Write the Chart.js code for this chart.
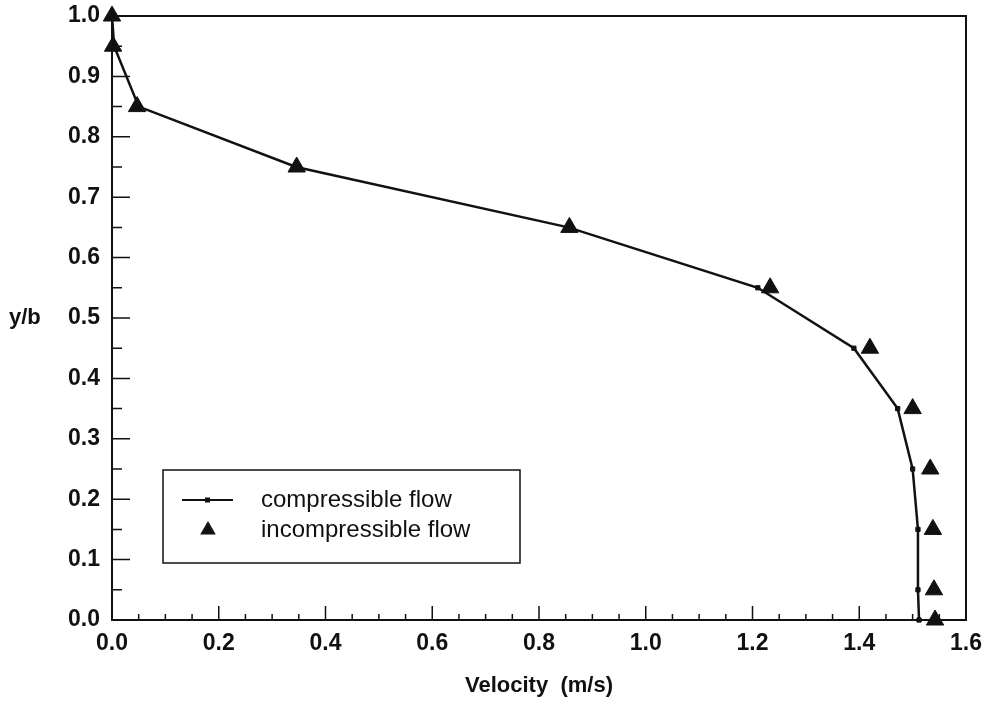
<!DOCTYPE html>
<html>
<head>
    <title>Velocity profile</title>
    <script src="https://cdn.jsdelivr.net/npm/chart.js"></script>
    <style>
        html, body { margin: 0; padding: 0; background: #fff; }
        #wrap { width: 988px; height: 709px; }
    </style>
</head>
<body>
<div id="wrap"><canvas id="profileChart" width="988" height="709"></canvas></div>
<script>
// y/b positions across the channel
const yPositions = [1.0, 0.95, 0.85, 0.75, 0.65, 0.55, 0.45, 0.35, 0.25, 0.15, 0.05, 0.0];
// velocity (m/s)
const compressibleVel = [0.0, 0.004, 0.05, 0.345, 0.855, 1.21, 1.39, 1.472, 1.50, 1.51, 1.51, 1.512];
const incompressibleVel = [0.0, 0.002, 0.047, 0.346, 0.857, 1.233, 1.42, 1.50, 1.533, 1.538, 1.54, 1.542];
const seriesLabels = ['compressible flow', 'incompressible flow'];
const xTicks = [0.0, 0.2, 0.4, 0.6, 0.8, 1.0, 1.2, 1.4, 1.6];
const yTicks = [0.0, 0.1, 0.2, 0.3, 0.4, 0.5, 0.6, 0.7, 0.8, 0.9, 1.0];

const FONT = '"Liberation Sans", Arial, sans-serif';
const INK = '#111';

function toPoints(xs, ys) {
    return xs.map((x, i) => ({ x: x, y: ys[i] }));
}

// inward ticks, box frame, horizontal y title and the boxed legend
const framePlugin = {
    id: 'frame',
    afterDraw(chart) {
        const ctx = chart.ctx;
        const area = chart.chartArea;
        const xs = chart.scales.x, ys = chart.scales.y;
        ctx.save();
        ctx.strokeStyle = INK;
        ctx.lineWidth = 2;
        ctx.strokeRect(area.left, area.top, area.right - area.left, area.bottom - area.top);

        ctx.lineWidth = 1.5;
        ctx.beginPath();
        for (let i = 1; i < 32; i++) {
            const v = i * 0.05;
            const px = xs.getPixelForValue(v);
            const len = (i % 4 === 0) ? 14 : 6;
            ctx.moveTo(px, area.bottom);
            ctx.lineTo(px, area.bottom - len);
        }
        for (let i = 1; i < 20; i++) {
            const v = i * 0.05;
            const py = ys.getPixelForValue(v);
            const len = (i % 2 === 0) ? 18 : 10;
            ctx.moveTo(area.left, py);
            ctx.lineTo(area.left + len, py);
        }
        ctx.stroke();

        // y axis title, horizontal
        ctx.fillStyle = INK;
        ctx.font = 'bold 22px ' + FONT;
        ctx.textBaseline = 'middle';
        ctx.textAlign = 'left';
        ctx.fillText('y/b', 9, ys.getPixelForValue(0.5));

        // legend box
        const lx = area.left + 51, ly = area.top + 454;
        ctx.lineWidth = 1.5;
        ctx.strokeRect(lx, ly, 357, 93);
        const row1 = ly + 30, row2 = ly + 60;
        const ds = chart.data.datasets;
        ctx.lineWidth = 2;
        ctx.beginPath();
        ctx.moveTo(lx + 19, row1);
        ctx.lineTo(lx + 70, row1);
        ctx.stroke();
        ctx.fillRect(lx + 42, row1 - 2.5, 5, 5);
        // triangle sample
        const tx = lx + 45, r = 9;
        ctx.beginPath();
        ctx.moveTo(tx, row2 - r);
        ctx.lineTo(tx + r * 0.866, row2 + r * 0.5);
        ctx.lineTo(tx - r * 0.866, row2 + r * 0.5);
        ctx.closePath();
        ctx.fill();
        ctx.font = '24px ' + FONT;
        ctx.fillText(ds[0].label, lx + 98, row1);
        ctx.fillText(ds[1].label, lx + 98, row2);
        ctx.restore();
    }
};

const ctx = document.getElementById('profileChart').getContext('2d');
new Chart(ctx, {
    type: 'scatter',
    data: {
        datasets: [{
            label: seriesLabels[0],
            data: toPoints(compressibleVel, yPositions),
            showLine: true,
            clip: false,
            borderColor: INK,
            borderWidth: 2.5,
            pointStyle: 'rect',
            pointRadius: 3,
            pointBackgroundColor: INK,
            pointBorderColor: INK,
            pointBorderWidth: 1,
            order: 2
        }, {
            label: seriesLabels[1],
            data: toPoints(incompressibleVel, yPositions),
            showLine: false,
            clip: false,
            pointStyle: 'triangle',
            pointRadius: 10,
            pointBackgroundColor: INK,
            pointBorderColor: INK,
            pointBorderWidth: 1,
            order: 1
        }]
    },
    options: {
        responsive: false,
        animation: false,
        layout: { padding: { top: 16, right: 22, left: 0, bottom: 0 } },
        plugins: {
            legend: { display: false },
            tooltip: { enabled: false }
        },
        scales: {
            x: {
                type: 'linear',
                min: 0, max: 1.6,
                grid: { display: false, drawTicks: false },
                border: { display: false },
                afterBuildTicks: s => { s.ticks = xTicks.map(v => ({ value: v })); },
                afterFit: s => { s.height = 89; s.paddingRight = 0; s.paddingLeft = 0; },
                ticks: {
                    color: INK,
                    padding: 10,
                    maxRotation: 0,
                    font: { family: FONT, size: 23, weight: 'bold' },
                    callback: v => Number(v).toFixed(1)
                },
                title: {
                    display: true,
                    text: 'Velocity  (m/s)',
                    color: INK,
                    font: { family: FONT, size: 22, weight: 'bold' },
                    padding: { top: 0, bottom: 10 }
                }
            },
            y: {
                type: 'linear',
                min: 0, max: 1.0,
                grid: { display: false, drawTicks: false },
                border: { display: false },
                afterBuildTicks: s => { s.ticks = yTicks.map(v => ({ value: v })); },
                afterFit: s => { s.width = 112; s.paddingTop = 0; s.paddingBottom = 0; },
                ticks: {
                    color: INK,
                    padding: 12,
                    font: { family: FONT, size: 23, weight: 'bold' },
                    callback: v => Number(v).toFixed(1)
                }
            }
        }
    },
    plugins: [framePlugin]
});
</script>
</body>
</html>
